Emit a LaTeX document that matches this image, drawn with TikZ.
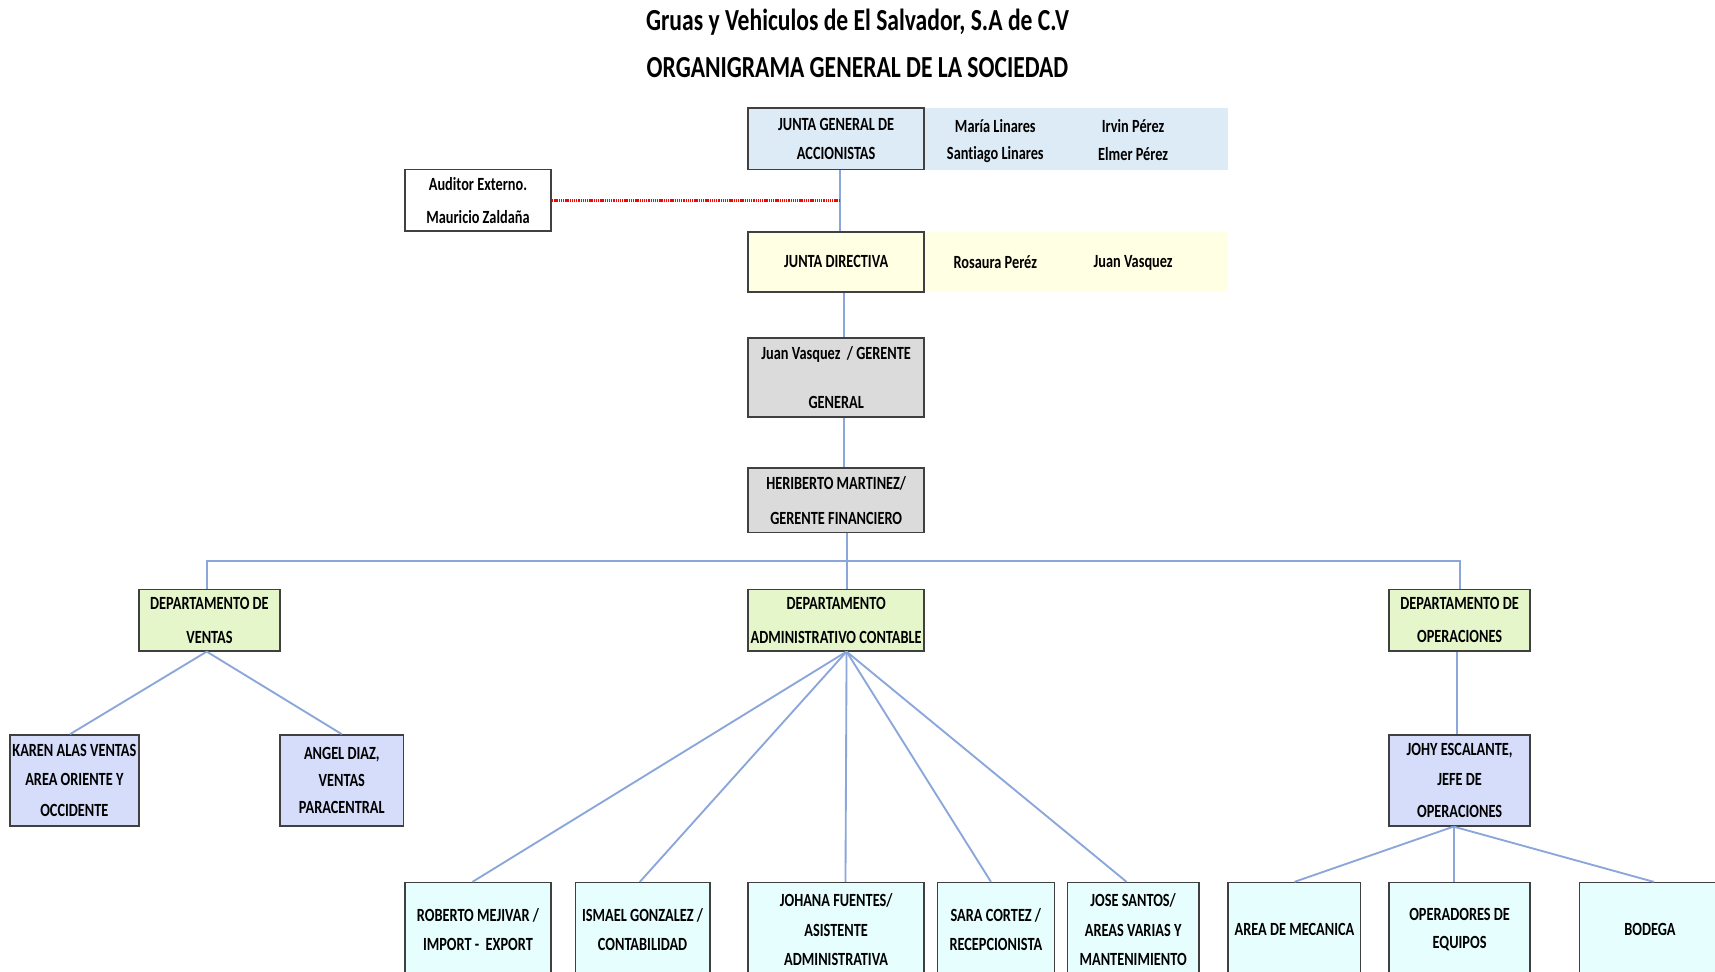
\documentclass[tikz,border=0pt]{standalone}
\usepackage{fontspec}
\setmainfont[FakeStretch=0.77,Ligatures=NoCommon]{Carlito}
\definecolor{jblue}{HTML}{DDEBF7}
\definecolor{jyellow}{HTML}{FFFFE3}
\definecolor{ggray}{HTML}{DBDBDB}
\definecolor{dgreen}{HTML}{E6F6CB}
\definecolor{lav}{HTML}{D5DDFA}
\definecolor{lcyan}{HTML}{E6FEFE}
\definecolor{lineblue}{HTML}{8AA6DB}
\begin{document}
\begin{tikzpicture}[x=1pt,y=-1pt,
  box/.style={draw=black!75, line width=1.5pt, inner sep=0pt, align=center,
    font=\bfseries\fontsize{17}{27}\selectfont},
  nametext/.style={inner sep=0pt, font=\bfseries\fontsize{17}{27}\selectfont},
  titletext/.style={inner sep=0pt, font=\bfseries\fontsize{28}{30}\selectfont},
  conn/.style={draw=lineblue, line width=1.7pt},
  audline/.style={draw=red, line width=2.6pt, dash pattern=on 1.2pt off 0.8pt}]
\useasboundingbox (0,0) rectangle (1568,888);
\clip (0,0) rectangle (1568,888);
\fill[white] (0,0) rectangle (1568,888);

% titles
\node[titletext] (t1) at (784,20) {Gruas y Vehiculos de El Salvador, S.A de C.V};
\node[titletext] (t2) at (784,62) {ORGANIGRAMA GENERAL DE LA SOCIEDAD};

% member bands
\fill[jblue] (845,99) rectangle (1123,155);
\fill[jyellow] (845,212) rectangle (1123,267);
\node[nametext] (n1) at (910,115) {María Linares};
\node[nametext] (n2) at (910,141) {Santiago Linares};
\node[nametext] (n3) at (1036,115) {Irvin Pérez};
\node[nametext] (n4) at (1036,141) {Elmer Pérez};
\node[nametext] (n5) at (910,240) {Rosaura Peréz};
\node[nametext] (n6) at (1036,240) {Juan Vasquez};

% top chain
\node[box, fill=jblue, minimum width=161pt, minimum height=56pt] (jga) at (764.5,127) {JUNTA GENERAL DE\\ACCIONISTAS};
\node[box, fill=white, minimum width=134pt, minimum height=56pt] (aud) at (437,183) {Auditor Externo.\\[3pt]Mauricio Zaldaña};
\node[box, fill=jyellow, minimum width=161pt, minimum height=55pt] (jd) at (764.5,239.5) {JUNTA DIRECTIVA};
\node[box, fill=ggray, minimum width=161pt, minimum height=72pt] (gg) at (764.5,345) {Juan Vasquez\ \ / GERENTE\\[18pt]GENERAL};
\node[box, fill=ggray, minimum width=161pt, minimum height=59pt] (hm) at (764.5,457.5) {HERIBERTO MARTINEZ/\\[5pt]GERENTE FINANCIERO};

% departments
\node[box, fill=dgreen, minimum width=129pt, minimum height=56pt] (dv) at (191.5,567) {DEPARTAMENTO DE\\[4pt]VENTAS};
\node[box, fill=dgreen, minimum width=161pt, minimum height=56pt] (da) at (764.5,567) {DEPARTAMENTO\\[4pt]ADMINISTRATIVO CONTABLE};
\node[box, fill=dgreen, minimum width=129pt, minimum height=56pt] (dop) at (1334.5,567) {DEPARTAMENTO DE\\[3pt]OPERACIONES};

% second level
\node[box, fill=lav, minimum width=118pt, minimum height=83pt] (karen) at (68,713.5) {KAREN ALAS VENTAS\\AREA ORIENTE Y\\[1pt]OCCIDENTE};
\node[box, fill=lav, minimum width=113pt, minimum height=83pt] (angel) at (312.5,713.5) {ANGEL DIAZ,\\[-2pt]VENTAS\\[-2pt]PARACENTRAL};
\node[box, fill=lav, minimum width=129pt, minimum height=83pt] (johy) at (1334.5,713.5) {JOHY ESCALANTE,\\JEFE DE\\[2pt]OPERACIONES};

% bottom row
\node[box, fill=lcyan, minimum width=134pt, minimum height=86pt] (rob) at (437,850) {ROBERTO MEJIVAR /\\[-1pt]IMPORT -\ \ EXPORT};
\node[box, fill=lcyan, minimum width=123pt, minimum height=86pt] (ism) at (587.5,850) {ISMAEL GONZALEZ /\\[-1pt]CONTABILIDAD};
\node[box, fill=lcyan, minimum width=161pt, minimum height=86pt] (joh) at (764.5,850) {JOHANA FUENTES/\\ASISTENTE\\ADMINISTRATIVA};
\node[box, fill=lcyan, minimum width=107pt, minimum height=86pt] (sara) at (910.5,850) {SARA CORTEZ /\\[-1pt]RECEPCIONISTA};
\node[box, fill=lcyan, minimum width=120pt, minimum height=86pt] (jose) at (1036,850) {JOSE SANTOS/\\AREAS VARIAS Y\\MANTENIMIENTO};
\node[box, fill=lcyan, minimum width=121pt, minimum height=86pt] (mec) at (1183.5,850) {AREA DE MECANICA};
\node[box, fill=lcyan, minimum width=129pt, minimum height=86pt] (ope) at (1334.5,850) {OPERADORES DE\\[-1pt]EQUIPOS};
\node[box, fill=lcyan, minimum width=129pt, minimum height=86pt] (bod) at (1508.5,850) {BODEGA};

% connectors
\coordinate (jgaS) at ([xshift=3.5pt]jga.south);
\draw[conn, line width=1.2pt] (jgaS) -- ([xshift=3.5pt]jd.north);
\draw[audline] (aud.east) -- (aud.east -| jgaS);
\draw[conn] ([xshift=7.5pt]jd.south) -- ([xshift=7.5pt]gg.north);
\draw[conn] ([xshift=7.5pt]gg.south) -- ([xshift=7.5pt]hm.north);
\draw[conn] ([xshift=9.5pt]hm.south) -- ([xshift=9.5pt]da.north);
\coordinate (bus) at ([xshift=9.5pt,yshift=-25pt]hm.south);
\draw[conn] ([xshift=-2.5pt]dv.north) |- (bus) -| (dop.north);

\draw[conn] ([xshift=-2.5pt]dv.south) -- ([xshift=-4pt]karen.north);
\draw[conn] ([xshift=-2.5pt]dv.south) -- (angel.north);

\coordinate (daS) at ([xshift=9.5pt]da.south);
\draw[conn] (daS) -- ([xshift=-5pt]rob.north);
\draw[conn] (daS) -- ([xshift=-2.5pt]ism.north);
\draw[conn] (daS) -- ([xshift=8.5pt]joh.north);
\draw[conn] (daS) -- ([xshift=-4.5pt]sara.north);
\draw[conn] (daS) -- ([xshift=-6pt]jose.north);

\draw[conn] ([xshift=-2.5pt]dop.south) -- ([xshift=-2.5pt]johy.north);
\coordinate (johyS) at ([xshift=-5.5pt]johy.south);
\draw[conn] (johyS) -- (mec.north);
\draw[conn] (johyS) -- ([xshift=-5.5pt]ope.north);
\draw[conn] (johyS) -- ([xshift=3.5pt]bod.north);
\end{tikzpicture}
\end{document}
